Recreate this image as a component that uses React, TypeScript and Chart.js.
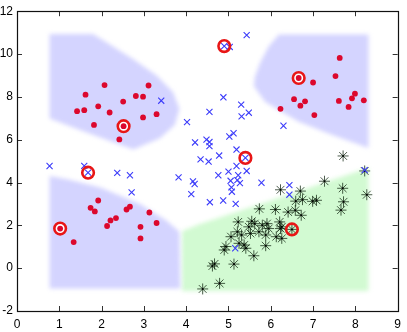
import React, { useEffect, useRef } from 'react';
import { Chart, registerables } from 'chart.js';

Chart.register(...registerables);

// ---- data ----
const redPoints: number[][] = [
  [1.42, 7.33], [1.59, 7.38], [1.62, 8.10], [1.82, 6.69], [1.92, 7.56], [2.07, 8.55], [2.19, 7.27],
  [2.42, 6.01], [2.51, 7.78], [2.52, 6.63], [2.81, 8.04], [2.98, 8.01], [2.98, 7.04], [3.11, 8.53], [3.30, 7.19],
  [6.23, 7.44], [6.55, 7.89], [6.66, 8.88], [6.70, 7.59], [6.81, 7.79], [7.00, 8.67], [7.03, 7.15],
  [7.53, 8.97], [7.61, 7.81], [7.63, 9.82], [7.84, 7.53], [7.92, 7.93], [7.99, 8.15], [8.20, 7.84],
  [1.02, 1.85], [1.34, 1.22], [1.74, 2.82], [1.84, 2.65], [1.92, 3.16], [2.13, 1.97], [2.21, 2.23],
  [2.34, 2.34], [2.59, 2.74], [2.67, 2.87], [2.92, 1.93], [2.92, 1.39], [3.13, 2.60], [3.30, 2.11],
];

const bluePoints: number[][] = [
  [0.77, 4.77], [1.59, 4.78], [1.68, 4.46], [2.37, 4.45], [2.67, 4.34], [2.71, 3.54], [3.41, 7.82],
  [3.82, 4.24], [4.02, 6.82], [4.12, 3.46], [4.16, 4.05], [4.20, 3.93], [4.21, 5.87], [4.34, 5.08],
  [4.48, 6.00], [4.53, 4.98], [4.55, 5.89], [4.55, 5.70], [4.55, 7.30], [4.56, 3.08], [4.76, 4.34],
  [4.78, 5.26], [4.875, 3.16], [4.88, 7.98], [4.90, 10.37], [5.03, 10.33], [5.00, 4.51], [5.02, 6.15],
  [5.05, 4.08], [5.07, 3.77], [5.08, 3.57], [5.12, 6.30], [5.16, 0.93], [5.17, 3.00], [5.19, 4.77],
  [5.19, 5.54], [5.21, 4.11], [5.23, 4.34], [5.27, 3.97], [5.30, 7.64], [5.31, 7.09], [5.40, 5.15],
  [5.43, 4.54], [5.43, 10.88], [5.48, 7.26], [5.78, 3.99], [6.30, 6.65], [6.44, 3.88], [6.44, 3.43],
  [8.22, 4.58],
];

const starPoints: number[][] = [
  [4.39, -0.97], [4.79, -0.71], [4.62, 0.10], [4.67, 0.20], [5.13, 0.19], [5.60, 0.58], [4.90, 0.85],
  [4.94, 1.01], [5.37, 1.08], [5.41, 0.93], [5.25, 1.16], [5.88, 1.05], [5.06, 1.47], [5.21, 1.70],
  [5.31, 1.55], [5.52, 1.62], [5.72, 1.70], [5.88, 1.55], [6.13, 1.47], [6.26, 1.39], [5.23, 2.16],
  [5.55, 2.19], [5.62, 2.08], [5.48, 1.93], [5.80, 2.00], [5.91, 2.08], [5.95, 1.85], [6.21, 2.16],
  [6.26, 1.93], [6.23, 1.85], [6.50, 1.81], [5.73, 2.77], [6.11, 2.74], [6.41, 2.62], [6.58, 2.70],
  [6.72, 2.47], [6.59, 3.13], [6.75, 3.20], [6.99, 3.12], [7.08, 3.17], [6.70, 3.60], [6.23, 3.66],
  [7.27, 4.06], [7.70, 3.73], [7.72, 3.10], [7.66, 2.71], [8.27, 3.43], [8.22, 4.54], [7.71, 5.24],
];

// circled points (red rings)
const targetPoints: number[][] = [[2.52, 6.63], [1.02, 1.85], [6.66, 8.88]];
const ringPoints: number[][] = [[4.90, 10.37], [1.68, 4.46], [5.40, 5.15], [6.50, 1.81]];

// decision regions (polygon vertices)
const regionTopLeft: number[][] = [
  [0.77, 10.94], [1.80, 10.94], [2.75, 9.76], [3.30, 9.00], [3.69, 8.22], [3.84, 7.45],
  [3.73, 6.69], [3.38, 6.07], [2.75, 5.54], [1.58, 6.38], [0.77, 6.99], [0.77, 10.94],
];
const regionTopRight: number[][] = [
  [6.19, 10.91], [8.31, 10.91], [8.31, 5.61], [7.44, 6.23], [6.66, 6.84], [5.87, 7.76],
  [5.60, 8.50], [5.62, 8.90], [5.75, 9.60], [5.95, 10.35], [6.19, 10.91],
];
const regionBottomLeft: number[][] = [
  [0.77, 4.31], [1.19, 4.15], [1.97, 3.77], [2.91, 3.00], [3.53, 2.23], [3.84, 1.70],
  [3.86, -0.95], [0.77, -0.95], [0.77, 4.31],
];
const regionGreen: number[][] = [
  [3.90, 1.72], [4.31, 2.05], [6.27, 3.34], [8.31, 4.69], [8.31, -1.07], [3.90, -1.07], [3.90, 1.72],
];

const xTicks = [0, 1, 2, 3, 4, 5, 6, 7, 8, 9];
const yTicks = [-2, 0, 2, 4, 6, 8, 10, 12];

const toXY = (arr: number[][]) => arr.map(([x, y]) => ({ x, y }));

const REGION_ORDER = 10;

const framePlugin = {
  id: 'frameTicks',
  beforeDatasetsDraw(chart: any) {
    chart.ctx.filter = 'blur(2.2px)';
  },
  beforeDatasetDraw(chart: any, args: any) {
    const ds = chart.data.datasets[args.index];
    chart.ctx.filter = ds.order === REGION_ORDER ? 'blur(2.2px)' : 'none';
  },
  afterDatasetsDraw(chart: any) {
    const { ctx, chartArea: a, scales } = chart;
    ctx.filter = 'none';
    ctx.save();
    ctx.strokeStyle = '#333';
    ctx.lineWidth = 1;
    ctx.beginPath();
    const L = 5;
    for (const v of xTicks) {
      const px = Math.round(scales.x.getPixelForValue(v)) + 0.5;
      ctx.moveTo(px, a.bottom);
      ctx.lineTo(px, a.bottom - L);
      ctx.moveTo(px, a.top);
      ctx.lineTo(px, a.top + L);
    }
    for (const v of yTicks) {
      const py = Math.round(scales.y.getPixelForValue(v)) + 0.5;
      ctx.moveTo(a.left, py);
      ctx.lineTo(a.left + L, py);
      ctx.moveTo(a.right, py);
      ctx.lineTo(a.right - L, py);
    }
    ctx.stroke();
    ctx.strokeStyle = '#111';
    ctx.lineWidth = 1.2;
    ctx.strokeRect(Math.round(a.left) + 0.5, Math.round(a.top) + 0.5, Math.round(a.right - a.left), Math.round(a.bottom - a.top));
    ctx.restore();
  },
};

function regionDataset(pts: number[][], color: string) {
  return {
    data: toXY(pts),
    showLine: true,
    fill: 'shape',
    backgroundColor: color,
    borderWidth: 0,
    borderColor: 'rgba(0,0,0,0)',
    pointRadius: 0,
    tension: 0,
    order: REGION_ORDER,
  };
}

export default function App() {
  const ref = useRef<HTMLCanvasElement | null>(null);

  useEffect(() => {
    if (!ref.current) return;
    const font = { family: '"Liberation Sans", Arial, sans-serif', size: 12 };
    const chart = new Chart(ref.current, {
      type: 'scatter',
      data: {
        datasets: [
          {
            data: toXY(redPoints),
            pointStyle: 'circle',
            pointRadius: 2.9,
            backgroundColor: 'rgb(220,8,45)',
            borderWidth: 0,
            order: 1,
          },
          {
            data: toXY(targetPoints),
            pointStyle: 'circle',
            pointRadius: 5.8,
            backgroundColor: '#ffffff',
            borderColor: 'rgb(232,22,22)',
            borderWidth: 2.6,
            order: 2,
          },
          {
            data: toXY(ringPoints),
            pointStyle: 'circle',
            pointRadius: 5.8,
            backgroundColor: 'rgba(0,0,0,0)',
            borderColor: 'rgb(232,22,22)',
            borderWidth: 2.6,
            order: 2,
          },
          {
            data: toXY(bluePoints),
            pointStyle: 'crossRot',
            pointRadius: 4.3,
            borderColor: 'rgb(60,60,250)',
            borderWidth: 1.1,
            order: 3,
          },
          {
            data: toXY(starPoints),
            pointStyle: 'rect',
            pointRadius: 1.1,
            backgroundColor: '#000',
            borderWidth: 0,
            order: 4,
          },
          {
            data: toXY(starPoints),
            pointStyle: 'star',
            pointRadius: 5.5,
            borderColor: 'rgba(10,30,10,0.72)',
            borderWidth: 1,
            order: 5,
          },
          regionDataset(regionTopLeft, 'rgb(212,212,255)'),
          regionDataset(regionTopRight, 'rgb(212,212,255)'),
          regionDataset(regionBottomLeft, 'rgb(212,212,255)'),
          regionDataset(regionGreen, 'rgb(210,250,210)'),
        ] as any,
      },
      options: {
        animation: false,
        responsive: false,
        events: [],
        layout: { padding: { left: 0, right: 7, top: 7, bottom: 0 } },
        plugins: {
          legend: { display: false },
          tooltip: { enabled: false },
        },
        scales: {
          x: {
            type: 'linear',
            min: 0,
            max: 9,
            afterBuildTicks: (s: any) => { s.ticks = xTicks.map((v) => ({ value: v })); },
            afterFit: (s: any) => { s.height = 21; },
            ticks: { font, color: '#000', padding: 6, autoSkip: false, maxRotation: 0 },
            grid: { display: false, drawTicks: false },
            border: { display: false },
          },
          y: {
            type: 'linear',
            min: -2,
            max: 12,
            afterBuildTicks: (s: any) => { s.ticks = yTicks.map((v) => ({ value: v })); },
            afterFit: (s: any) => { s.width = 17; },
            ticks: { font, color: '#000', padding: 4, autoSkip: false },
            grid: { display: false, drawTicks: false },
            border: { display: false },
          },
        },
      },
      plugins: [framePlugin],
    });
    return () => chart.destroy();
  }, []);

  return (
    <div style={{ position: 'absolute', left: 0, top: 0, width: 407, height: 332 }}>
      <canvas ref={ref} width={407} height={332} style={{ display: 'block', width: 407, height: 332 }} />
    </div>
  );
}
